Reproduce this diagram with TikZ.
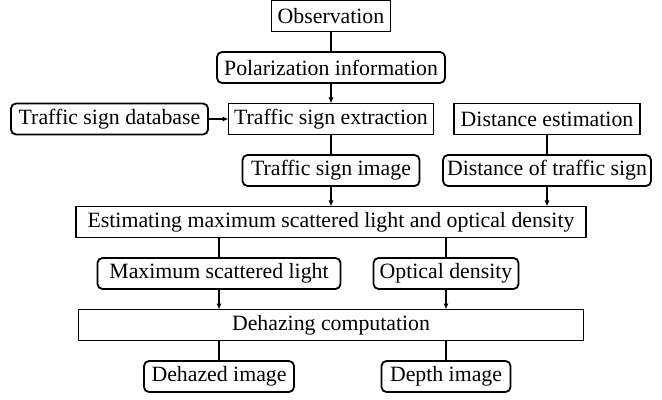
\documentclass[tikz,border=0pt]{standalone}
\usepackage{fontspec}
\setmainfont{Liberation Serif}
\usetikzlibrary{positioning,arrows.meta}

\begin{document}
\begin{tikzpicture}[>={Latex[length=3pt,width=2.6pt]},node distance=10.25pt,x=0.5pt,y=-0.5pt]
  \tikzstyle{sqbox}=[draw,line width=0.9pt,outer sep=0pt,minimum height=15.5pt,
    inner xsep=2pt,inner ysep=0pt,font=\fontsize{10.9}{12}\selectfont]
  \tikzstyle{rdbox}=[sqbox,rounded corners=2.5pt]
  \tikzstyle{link}=[line width=0.75pt]
  \useasboundingbox (0,0) rectangle (662,400);
  \node[sqbox,minimum width=59.5pt] (obs) at (331,16) {Observation};
  \node[rdbox,minimum width=114pt,below=of obs] (polar) {Polarization information};
  \node[sqbox,minimum width=102.5pt,below=of polar] (extract) {Traffic sign extraction};
  \node[rdbox,minimum width=98.5pt,left=of extract] (database) {Traffic sign database};
  \node[sqbox,minimum width=93pt,right=of extract] (distest) {Distance estimation};
  \node[rdbox,minimum width=88.5pt,below=of extract] (signimg) {Traffic sign image};
  \node[rdbox,minimum width=103.5pt,below=of distest] (distof) {Distance of traffic sign};
  \node[sqbox,minimum width=255pt,below=of signimg] (estim) {Estimating maximum scattered light and optical density};
  \node[rdbox,minimum width=121.5pt,below=of estim,xshift=-56pt] (maxlight) {Maximum scattered light};
  \node[rdbox,minimum width=72.5pt,below=of estim,xshift=57.5pt] (optdens) {Optical density};
  \node[sqbox,minimum width=252.5pt,below=36pt of estim] (dehaze) {Dehazing computation};
  \node[rdbox,minimum width=75pt,below=of dehaze,xshift=-56pt] (dehazed) {Dehazed image};
  \node[rdbox,minimum width=64.5pt,below=of dehaze,xshift=57.5pt] (depth) {Depth image};
  % top column
  \draw[link] (obs) -- (polar);
  \draw[link,->] (polar) -- (extract);
  \draw[link,->] (database) -- (extract);
  \draw[link] (extract) -- (signimg);
  \draw[link] (distest) -- (distof);
  \draw[link,->] (signimg) -- (estim);
  \draw[link,->] (distof.south) -- (distof.south |- estim.north);
  % lower part
  \draw[link] (estim.south -| maxlight) -- (maxlight);
  \draw[link] (estim.south -| optdens) -- (optdens);
  \draw[link,->] (maxlight) -- (maxlight |- dehaze.north);
  \draw[link,->] (optdens) -- (optdens |- dehaze.north);
  \draw[link] (dehaze.south -| dehazed) -- (dehazed);
  \draw[link] (dehaze.south -| depth) -- (depth);
\end{tikzpicture}
\end{document}
